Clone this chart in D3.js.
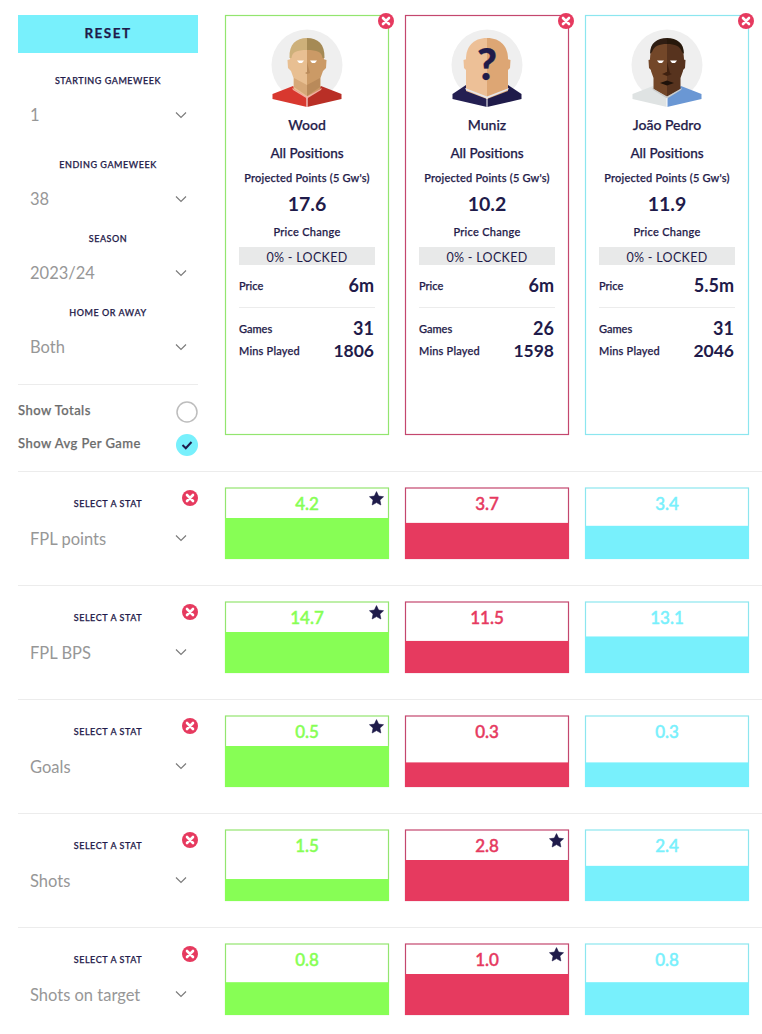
<!DOCTYPE html>
<html>
<head>
<meta charset="utf-8">
<script src="https://cdn.jsdelivr.net/npm/d3@7"></script>
<style>
  body { margin: 0; background: #fff; }
  svg { display: block; }
  text { font-family: Lato, "Noto Sans", sans-serif; fill: #1f1b4a; font-weight: 500; stroke: #1f1b4a; stroke-width: 0.25px; }
  .filter-label { font-size: 9px; letter-spacing: 0.55px; text-anchor: middle; }
  .select-value { font-size: 16.5px; fill: #979797; font-weight: 400; stroke: none; }
  .chev { fill: none; stroke: #7c7c7c; stroke-width: 1.2; }
  .toggle { font-size: 13px; fill: #6c6c6c; stroke: #6c6c6c; letter-spacing: 0.45px; }
  .rule { stroke: #ececec; stroke-width: 1; }
  .mid { text-anchor: middle; }
  .end { text-anchor: end; }
</style>
</head>
<body>
<div id="chart"></div>
<script>
var players = ["Wood", "Muniz", "João Pedro"];
var positions = ["All Positions", "All Positions", "All Positions"];
var projected = [17.6, 10.2, 11.9];
var priceChange = ["0% - LOCKED", "0% - LOCKED", "0% - LOCKED"];
var prices = ["6m", "6m", "5.5m"];
var games = [31, 26, 31];
var minsPlayed = [1806, 1598, 2046];

var stats = ["FPL points", "FPL BPS", "Goals", "Shots", "Shots on target"];
var woodValues = [4.2, 14.7, 0.5, 1.5, 0.8];
var munizValues = [3.7, 11.5, 0.3, 2.8, 1.0];
var pedroValues = [3.4, 13.1, 0.3, 2.4, 0.8];

var filterLabels = ["STARTING GAMEWEEK", "ENDING GAMEWEEK", "SEASON", "HOME OR AWAY"];
var filterValues = ["1", "38", "2023/24", "Both"];

var playerValues = [woodValues, munizValues, pedroValues];
var fills = ["#87fe55", "#e63a5f", "#78f0fc"];
var borders = ["#93e56f", "#c4476e", "#8ce6ef"];
var navy = "#1f1b4a";

var svg = d3.select("#chart").append("svg").attr("width", 762).attr("height", 1034);

var x = d3.scaleBand().domain(players).range([225, 749]).paddingInner(16 / 180);
var y = d3.scaleBand().domain(stats).range([487.5, 1015]).paddingInner(42.5 / 114);

var starPath = d3.lineRadial().curve(d3.curveLinearClosed)(d3.range(10).map(function(i) {
  return [i * Math.PI / 5, i % 2 ? 3.6 : 7.4];
}));

function chevron(g, cx, cy) {
  g.append("path").attr("class", "chev")
    .attr("d", "M" + (cx - 5) + "," + (cy - 2.5) + "L" + cx + "," + (cy + 2.5) + "L" + (cx + 5) + "," + (cy - 2.5));
}

function closeIcon(g, cx, cy) {
  g.append("circle").attr("cx", cx).attr("cy", cy).attr("r", 8).attr("fill", "#e63a5f");
  g.append("path")
    .attr("d", "M" + (cx - 3) + "," + (cy - 3) + "L" + (cx + 3) + "," + (cy + 3) + "M" + (cx + 3) + "," + (cy - 3) + "L" + (cx - 3) + "," + (cy + 3))
    .attr("stroke", "#fff").attr("stroke-width", 2.6).attr("stroke-linecap", "round");
}

// ---- left panel
svg.append("rect").attr("x", 18).attr("y", 15).attr("width", 180).attr("height", 38).attr("fill", "#78f0fc");
svg.append("text").attr("class", "mid").attr("x", 108).attr("y", 38)
  .style("font-size", "13.5px").style("font-weight", 700).style("letter-spacing", "1.5px").text("RESET");

var labelY = [84, 168, 242, 316];
var valueY = [120.5, 204.5, 278.5, 352.5];
filterLabels.forEach(function(label, i) {
  svg.append("text").attr("class", "filter-label").attr("x", 108).attr("y", labelY[i]).text(label);
  svg.append("text").attr("class", "select-value").attr("x", 30).attr("y", valueY[i]).text(filterValues[i]);
  chevron(svg, 181, valueY[i] - 5.5);
});

svg.append("line").attr("class", "rule").attr("x1", 18).attr("x2", 198).attr("y1", 384.5).attr("y2", 384.5);
svg.append("text").attr("class", "toggle").attr("x", 18).attr("y", 415).text("Show Totals");
svg.append("text").attr("class", "toggle").attr("x", 18).attr("y", 448).text("Show Avg Per Game");
svg.append("circle").attr("cx", 187).attr("cy", 412).attr("r", 10).attr("fill", "#fff").attr("stroke", "#bdbdbd").attr("stroke-width", 1.5);
svg.append("circle").attr("cx", 187).attr("cy", 445).attr("r", 11).attr("fill", "#78f0fc");
svg.append("path").attr("d", "M182.5,445L185.8,448.2L191.5,442").attr("fill", "none").attr("stroke", navy).attr("stroke-width", 2);

// ---- portraits, drawn around the circle centre
function portrait(g, look) {
  g.append("circle").attr("r", 35.5).attr("fill", "#efefef");
  [-1, 1].forEach(function(s) {
    var skin = s < 0 ? look.skinL : look.skinR;
    var w = look.headW;
    g.append("path").attr("d", "M" + s * (w - 1) + ",-6L" + s * (w + 2.5) + ",-5L" + s * (w + 2) + ",3L" + s * (w - 1) + ",6Z").attr("fill", skin);
    g.append("path").attr("d", "M0,33L" + s * look.neckW + "," + look.shoulderY + "L" + s * 34.5 + ",29L" + s * 34.5 + ",34L0,42Z").attr("fill", s < 0 ? look.shirtL : look.shirtR);
    g.append("path").attr("d", look.head(s)).attr("fill", skin);
    if (look.jaw) {
      g.append("path").attr("d", "M0,20L" + s * 13 + ",13L" + s * 13 + ",22L0,31Z").attr("fill", s < 0 ? look.jaw[0] : look.jaw[1]);
    }
    if (look.hairL) {
      g.append("path").attr("d", look.hair(s)).attr("fill", s < 0 ? look.hairL : look.hairR);
    }
    g.append("path").attr("d", "M0,33.5L" + s * look.neckW + ",25L" + s * (look.neckW + 1) + ",23L0,31.5Z").attr("fill", look.collar);
    if (look.eyes) {
      g.append("path").attr("d", "M" + s * 3 + ",-4.5L" + s * 10 + ",-4.5L" + s * 8 + ",-2L" + s * 5 + ",-2Z").attr("fill", "#fff");
    }
  });
  g.append("path").attr("d", "M0,33V42").attr("stroke", "#fff").attr("stroke-width", 1);
  if (look.eyes) {
    g.append("path").attr("d", "M0,-3L3,8L0,9L-2,8L0,7Z").attr("fill", look.nose);
  }
  if (look.beard) {
    g.append("path").attr("d", "M-7,18L0,15.5L7,18L0,20.5Z").attr("fill", look.beard);
    g.append("path").attr("d", "M-5,9L0,7L5,9L0,11Z").attr("fill", look.nose);
  }
  if (look.mark) {
    g.append("text").attr("class", "mid").attr("y", 15).style("font-size", "43px").style("font-weight", 900).text(look.mark);
  }
}

function roundHead(side) {
  return "M0,-24C" + side * 10 + ",-24 " + side * 17 + ",-18 " + side * 17 + ",-6L" + side * 16 + ",6L" + side * 13.5 + ",13L" + side * 13.5 + ",24L0,32Z";
}
function roundHair(side) {
  return "M0,-27C" + side * 11 + ",-27 " + side * 18 + ",-21 " + side * 17.5 + ",-7L" + side * 15.5 + ",-7C" + side * 15 + ",-13 " + side * 10 + ",-15 0,-15Z";
}
function capHair(side) {
  return "M0,-27C" + side * 10 + ",-27 " + side * 17 + ",-22 " + side * 17 + ",-11L" + side * 15 + ",-13C" + side * 13 + ",-19 " + side * 8 + ",-21 0,-21Z";
}
function baldHead(side) {
  return "M0,-27C" + side * 14 + ",-27 " + side * 21 + ",-18 " + side * 21 + ",-6L" + side * 21 + ",26L0,34Z";
}

var looks = [
  { headW: 17, neckW: 14, shoulderY: 21, skinL: "#e8bf92", skinR: "#cb9a66", hairL: "#cdb07a", hairR: "#a58a55", shirtL: "#d8382f", shirtR: "#b92f26", collar: "#efb0a0", jaw: ["#d6a878", "#b98a5a"], head: roundHead, hair: roundHair, eyes: true, nose: "#b98a5a" },
  { headW: 21, neckW: 21, shoulderY: 20, skinL: "#edc097", skinR: "#dda674", shirtL: "#241f52", shirtR: "#1f1b4a", collar: "#e6e6ea", head: baldHead, mark: "?" },
  { headW: 16, neckW: 14, shoulderY: 21, skinL: "#734729", skinR: "#57331e", hairL: "#2f1d12", hairR: "#27180b", shirtL: "#dfe3e3", shirtR: "#6a97d4", collar: "#c9cccc", head: roundHead, hair: capHair, eyes: true, nose: "#3f2110", beard: "#1e120a" }
];

// ---- player cards
var cards = svg.selectAll("g.card").data(players).enter().append("g").attr("class", "card");

cards.each(function(name, i) {
  var g = d3.select(this);
  var left = x(name);
  var w = x.bandwidth();
  var cx = left + w / 2;
  var inL = left + 14;
  var inR = left + w - 15;

  g.append("rect").attr("x", left + 0.5).attr("y", 15.5).attr("width", w - 1).attr("height", 419)
    .attr("fill", "#fff").attr("stroke", borders[i]).attr("stroke-width", 1.2);
  closeIcon(g, left + w - 3, 21);
  portrait(g.append("g").attr("transform", "translate(" + (left + 82) + ",65)"), looks[i]);

  g.append("text").attr("class", "mid").attr("x", cx).attr("y", 130).style("font-size", "14px").text(name);
  g.append("text").attr("class", "mid").attr("x", cx).attr("y", 158).style("font-size", "13.5px").text(positions[i]);
  g.append("text").attr("class", "mid").attr("x", cx).attr("y", 182).style("font-size", "11px").style("letter-spacing", "0.2px").text("Projected Points (5 Gw's)");
  g.append("text").attr("class", "mid").attr("x", cx).attr("y", 211).style("font-size", "19.5px").style("font-weight", 700).style("stroke", "none").text(projected[i].toFixed(1));
  g.append("text").attr("class", "mid").attr("x", cx).attr("y", 236).style("font-size", "11px").style("letter-spacing", "0.3px").text("Price Change");

  g.append("rect").attr("x", inL).attr("y", 247).attr("width", 136).attr("height", 18).attr("fill", "#e8e9e9");
  g.append("text").attr("class", "mid").attr("x", cx).attr("y", 262).style("font-size", "12.5px").style("font-weight", 400).style("stroke", "none").style("letter-spacing", "0.3px").text(priceChange[i]);

  g.append("text").attr("x", inL).attr("y", 290).style("font-size", "11px").text("Price");
  g.append("text").attr("class", "end").attr("x", inR).attr("y", 292).style("font-size", "18px").style("font-weight", 700).style("stroke", "none").text(prices[i]);
  g.append("line").attr("class", "rule").attr("x1", inL).attr("x2", inL + 136).attr("y1", 307.5).attr("y2", 307.5);
  g.append("text").attr("x", inL).attr("y", 333).style("font-size", "11px").text("Games");
  g.append("text").attr("class", "end").attr("x", inR).attr("y", 335).style("font-size", "18px").style("font-weight", 700).style("stroke", "none").text(games[i]);
  g.append("text").attr("x", inL).attr("y", 355).style("font-size", "11px").style("letter-spacing", "0.2px").text("Mins Played");
  g.append("text").attr("class", "end").attr("x", inR).attr("y", 357).style("font-size", "17.5px").style("font-weight", 700).style("stroke", "none").text(minsPlayed[i]);
});

// ---- stat rows
var rows = svg.selectAll("g.row").data(stats).enter().append("g").attr("class", "row");

rows.each(function(stat, r) {
  var g = d3.select(this);
  var top = y(stat);
  var h = y.bandwidth();
  var rowValues = playerValues.map(function(v) { return v[r]; });
  var best = d3.max(rowValues);
  // bars are scaled to the best player of the row
  var barH = d3.scaleLinear().domain([0, best]).range([0, 41]);

  g.append("line").attr("class", "rule").attr("x1", 18).attr("x2", 762).attr("y1", top - 16).attr("y2", top - 16);
  g.append("text").attr("class", "mid").attr("x", 108).attr("y", top + 19.5)
    .style("font-size", "9px").style("letter-spacing", "0.55px").text("SELECT A STAT");
  g.append("text").attr("class", "select-value").attr("x", 30).attr("y", top + 57).text(stat);
  chevron(g, 181, top + 50.5);
  closeIcon(g, 190, top + 10.5);

  var cells = g.selectAll("g.cell").data(rowValues).enter().append("g").attr("class", "cell");
  cells.append("rect")
    .attr("x", function(d, i) { return x(players[i]) + 0.5; })
    .attr("y", top + 0.5)
    .attr("width", x.bandwidth() - 1)
    .attr("height", h - 1)
    .attr("fill", "#fff")
    .attr("stroke", function(d, i) { return borders[i]; })
    .attr("stroke-width", 1.2);
  cells.append("rect")
    .attr("x", function(d, i) { return x(players[i]); })
    .attr("y", function(d) { return top + h - barH(d); })
    .attr("width", x.bandwidth())
    .attr("height", function(d) { return barH(d); })
    .attr("fill", function(d, i) { return fills[i]; });
  cells.append("text").attr("class", "mid")
    .attr("x", function(d, i) { return x(players[i]) + x.bandwidth() / 2; })
    .attr("y", top + 22)
    .style("font-size", "17px")
    .style("fill", function(d, i) { return fills[i]; })
    .style("stroke", function(d, i) { return fills[i]; })
    .style("stroke-width", "0.45px")
    .text(function(d) { return d.toFixed(1); });
  cells.filter(function(d) { return d === best; }).append("path")
    .attr("d", starPath)
    .attr("stroke", navy).attr("stroke-width", 0.6).attr("stroke-linejoin", "round")
    .attr("transform", function(d) {
      var p = rowValues.indexOf(d);
      return "translate(" + (x(players[p]) + 151.5) + "," + (top + 11.5) + ")";
    })
    .attr("fill", navy);
});
</script>
</body>
</html>
